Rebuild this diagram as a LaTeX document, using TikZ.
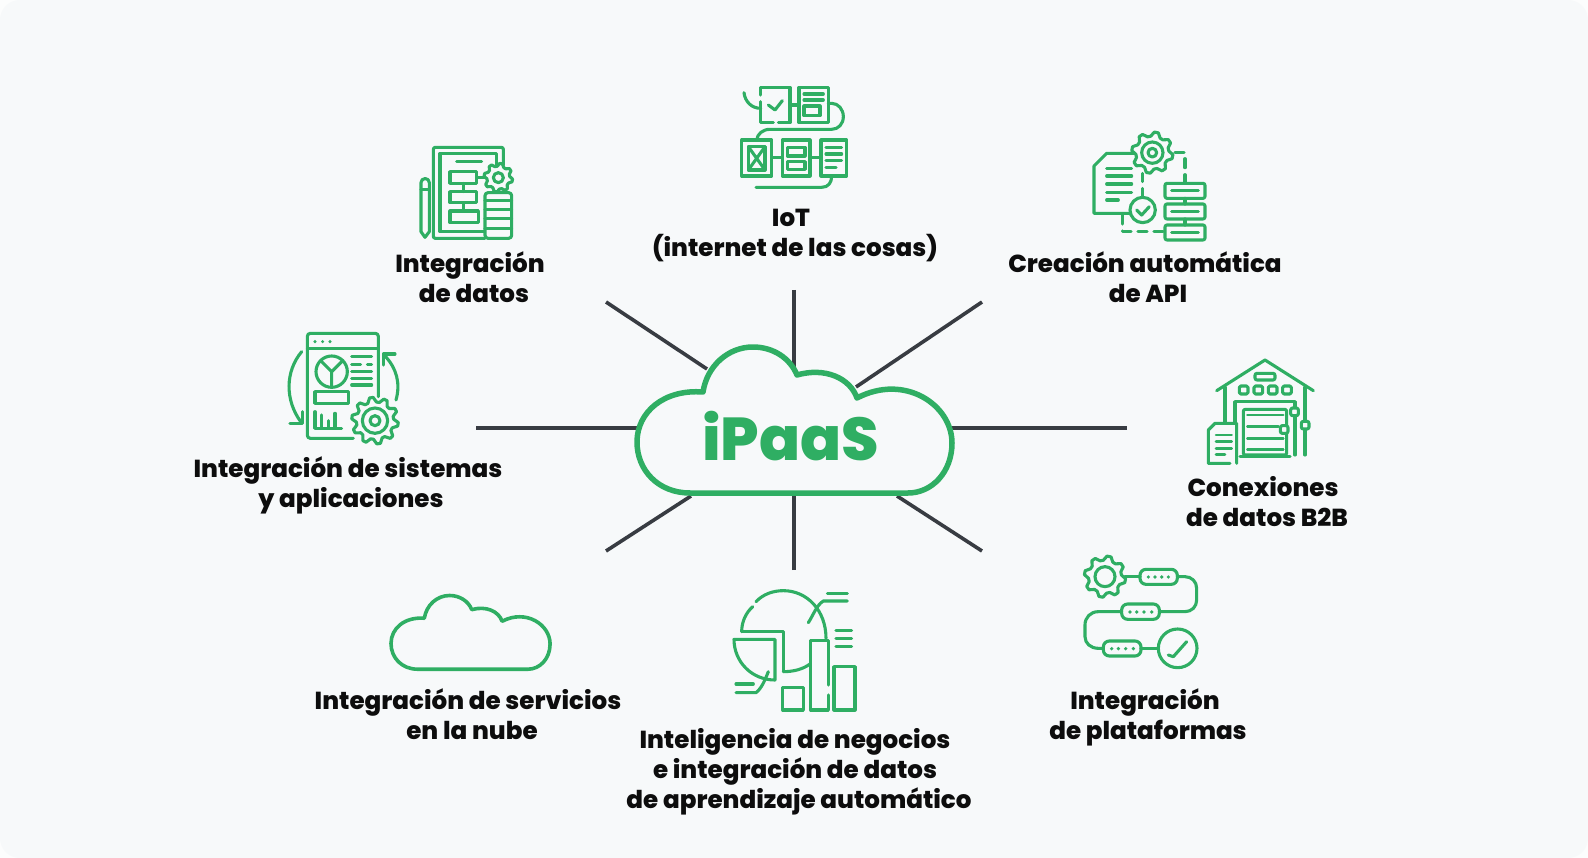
\documentclass[tikz,border=0pt]{standalone}
\usepackage{fontspec}
\setmainfont{Poppins}
\newfontfamily\heavyfont{Poppins ExtraBold}
\newcommand{\lblsize}{\heavyfont\fontsize{24.6}{30}\selectfont}
\definecolor{grn}{HTML}{2FAE63}
\definecolor{bgc}{HTML}{F7F9FA}
\definecolor{crn}{HTML}{FCFDFD}
\definecolor{lnk}{HTML}{383C42}
\tikzset{
  ic/.style={draw=grn,line width=3.1pt,line cap=round,line join=round},
  thin ic/.style={ic,line width=2.6pt},
  spoke/.style={draw=lnk,line width=3.6pt},
  lbl/.style={align=center,font=\lblsize,text=black!95,inner sep=0pt},
  zoomA/.style={shift={(720,70)},x=0.33333pt,y=-0.33333pt},
  zoomB/.style={shift={(270,130)},x=0.33333pt,y=-0.33333pt},
  zoomC/.style={shift={(720,540)},x=0.33333pt,y=-0.33333pt},
  zoomD/.style={shift={(1190,350)},x=0.33333pt,y=-0.33333pt},
}
% gear: centre x, centre y, outer radius, teeth
\newcommand{\geardraw}[4]{%
  \draw[ic,fill=bgc] plot[samples=#4*4,domain=0:(#4*4-1),variable=\t]
    ({#1+(#3*(mod(round(\t),4)<2?1:0.8))*cos((\t+0.5)*90/#4)},
     {#2+(#3*(mod(round(\t),4)<2?1:0.8))*sin((\t+0.5)*90/#4)}) -- cycle;}
% cloud outline in coordinates of the large cloud
\newcommand{\cloudpath}{
  (690,493) .. controls (658,493) and (637,470) .. (637,442)
  .. controls (637,412) and (664,389) .. (703,392)
  .. controls (707,366) and (728,347) .. (753,347)
  .. controls (773,347) and (790,358) .. (797,375)
  .. controls (825,367) and (850,378) .. (857,398)
  .. controls (905,373) and (952,405) .. (952,443)
  .. controls (952,472) and (932,493) .. (908,493) -- cycle}
\begin{document}
\begin{tikzpicture}[x=1pt,y=-1pt]
\useasboundingbox (0,0) rectangle (1588,858);
\fill[crn] (0,0) rectangle (1588,858);
\fill[bgc,rounded corners=20pt] (0,0) rectangle (1588,858);

% hub ends
\coordinate (hubUL) at (707,369);
\coordinate (hubT) at (794,367);
\coordinate (hubUR) at (856,387);
\coordinate (hubL) at (640,428);
\coordinate (hubR) at (950,428);
\coordinate (hubLL) at (691,496);
\coordinate (hubB) at (794,493);
\coordinate (hubLR) at (897,496);
\coordinate (endUL) at (606,302);
\coordinate (endT) at (794,290);
\coordinate (endUR) at (982,302);
\coordinate (endL) at (476,428);
\coordinate (endR) at (1127,428);
\coordinate (endLL) at (606,551);
\coordinate (endB) at (794,570);
\coordinate (endLR) at (982,551);
\draw[spoke] (endUL) -- (hubUL);
\draw[spoke] (endT) -- (hubT);
\draw[spoke] (endUR) -- (hubUR);
\draw[spoke] (endL) -- (hubL);
\draw[spoke] (endR) -- (hubR);
\draw[spoke] (endLL) -- (hubLL);
\draw[spoke] (endB) -- (hubB);
\draw[spoke] (endLR) -- (hubLR);

% central cloud
\draw[draw=grn,line width=5.5pt,line join=round,fill=bgc] \cloudpath;
\node[text=grn,inner sep=0pt,font=\heavyfont\fontsize{60.5}{60}\selectfont] (hub) at (790.5,436) {iPaaS};

% small cloud
\begin{scope}[shift={(391,595.5)},x=0.505pt,y=-0.505pt,shift={(-637,-347)}]
\draw[draw=grn,line width=3.6pt,line join=round] \cloudpath;
\end{scope}

% labels
\node[lbl] (l1) at (795,235.5) {\hspace*{-8pt}IoT\\(internet de las cosas)};
\node[lbl] (l2) at (470,277.5) {Integración\\\hspace*{8pt}de datos};
\node[lbl] (l3) at (1145,277.5) {Creación automática\\\hspace*{6pt}de API};
\node[lbl] (l4) at (348,485) {Integración de sistemas\\\hspace*{6pt}y aplicaciones};
\node[lbl] (l5) at (1263,502) {Conexiones\\\hspace*{8pt}de datos B2B};
\node[lbl] (l6) at (468,714) {Integración de servicios\\\hspace*{8pt}en la nube};
\node[lbl] (l7) at (1145,717) {Integración\\\hspace*{6pt}de plataformas};
\node[lbl] (l8) at (799,772) {\hspace*{-8pt}Inteligencia de negocios\\\hspace*{-8pt}e integración de datos\\de aprendizaje automático};

% IoT icon
\begin{scope}[zoomA]
\draw[ic] (72,68) .. controls (75,95) and (95,115) .. (122,115);
\draw[ic] (122,95) -- (122,158) -- (160,158) (175,158) -- (210,158) -- (210,52) -- (122,52) -- (122,75);
\draw[ic] (145,105) -- (165,120) -- (187,92);
\draw[ic] (210,105) -- (237,105);
\draw[ic] (237,52) rectangle (325,158);
\draw[ic] (252,72) -- (310,72) (252,90) -- (310,90);
\draw[ic] (252,108) rectangle (300,137);
\draw[ic] (325,100) -- (335,100) .. controls (355,100) and (370,118) .. (370,140) .. controls (370,162) and (355,178) .. (335,178) -- (150,178) .. controls (128,178) and (112,192) .. (110,210);
\draw[ic] (65,210) rectangle (155,318);
\draw[ic] (85,230) rectangle (135,300);
\draw[ic] (85,230) -- (135,300) (135,230) -- (85,300);
\draw[ic] (155,262) -- (187,262);
\draw[ic] (187,210) rectangle (270,318);
\draw[ic] (202,232) rectangle (255,258);
\draw[ic] (202,275) rectangle (255,298);
\draw[ic] (270,262) -- (303,262);
\draw[ic] (303,210) rectangle (380,318);
\draw[ic] (318,232) -- (365,232) (318,252) -- (365,252) (318,272) -- (365,272) (318,292) -- (348,292);
\draw[ic] (335,318) .. controls (335,338) and (325,352) .. (305,352) -- (108,352);

% API icon
\draw[ic] (1250,250) -- (1160,250) -- (1122,288) -- (1122,430) -- (1232,430);
\draw[ic] (1160,295) -- (1235,295) (1160,318) -- (1235,318) (1160,342) -- (1235,342) (1160,367) -- (1235,367) (1160,390) -- (1195,390);
\geardraw{1297}{248}{62}{8}
\draw[ic] (1297,248) circle[radius=32] (1297,248) circle[radius=13];
\draw[ic,dash pattern=on 9pt off 7pt] (1365,248) -- (1395,248) -- (1395,340);
\draw[ic] (1268,310) -- (1268,335) (1268,355) -- (1268,382);
\draw[ic] (1268,420) circle[radius=38];
\draw[ic] (1250,420) -- (1265,435) -- (1288,410);
\draw[ic,dash pattern=on 9pt off 7pt] (1208,435) -- (1208,485) -- (1335,485);
\draw[ic,rounded corners=2pt] (1335,340) rectangle (1455,385);
\draw[ic,rounded corners=2pt] (1335,402) rectangle (1455,447);
\draw[ic,rounded corners=2pt] (1335,465) rectangle (1455,510);
\draw[ic] (1355,362) -- (1435,362) (1355,424) -- (1435,424) (1355,487) -- (1435,487);
\draw[ic] (1395,385) -- (1395,402) (1395,447) -- (1395,465);
\end{scope}

% data integration + systems icons
\begin{scope}[zoomB]
\draw[ic,rounded corners=2pt] (645,325) -- (490,325) -- (490,52) -- (700,52) -- (700,105);
\draw[ic] (645,305) -- (510,305) -- (510,70) -- (680,70) -- (680,105);
\draw[ic] (560,95) -- (635,95);
\draw[ic] (540,125) rectangle (620,160);
\draw[ic] (540,185) rectangle (620,218);
\draw[ic] (540,243) rectangle (625,278);
\draw[ic] (580,160) -- (580,185) (580,218) -- (580,243) (620,142) -- (645,142);
\geardraw{685}{143}{43}{8}
\draw[ic] (685,143) circle[radius=15];
\draw[ic,rounded corners=3pt,fill=bgc] (645,188) rectangle (725,325);
\draw[ic] (645,212) -- (725,212) (645,238) -- (725,238) (645,266) -- (725,266) (645,296) -- (725,296);
\draw[ic] (453,305) -- (453,158) arc[start angle=180,end angle=360,radius=12.5] -- (478,305) -- (465,322) -- cycle;
\draw[ic] (453,178) -- (478,178);

\draw[ic,rounded corners=3pt] (325,800) -- (325,610) -- (112,610) -- (112,925) -- (250,925);
\draw[ic] (112,655) -- (325,655);
\foreach \dx in {135,158,180} \fill[grn] (\dx,635) circle[radius=5];
\draw[ic] (185,725) circle[radius=47];
\draw[ic] (152,692) -- (185,725) -- (218,692) (185,725) -- (185,772);
\draw[ic] (245,680) -- (305,680) (245,703) -- (272,703) (292,703) -- (305,703) (245,725) -- (305,725) (245,745) -- (305,745) (245,765) -- (305,765);
\draw[ic] (135,785) rectangle (235,820);
\draw[ic] (135,845) -- (135,895) -- (215,895);
\draw[ic] (155,855) -- (155,895) (175,872) -- (175,895) (195,850) -- (195,895);
\geardraw{315}{872}{70}{10}
\draw[ic] (315,872) circle[radius=38] (315,872) circle[radius=15];
\draw[ic] (95,665) .. controls (45,725) and (45,810) .. (92,875);
\draw[ic] (60,880) -- (97,880) -- (97,845);
\draw[ic] (378,810) .. controls (392,760) and (380,715) .. (345,678);
\draw[ic] (340,705) -- (340,672) -- (375,672);
\end{scope}

% BI + platform icons
\begin{scope}[zoomC]
\draw[ic] (65,275) -- (190,275) -- (190,395);
\draw[ic] (65,275) .. controls (65,245) and (78,218) .. (98,200);
\draw[ic] (108,185) .. controls (130,162) and (160,152) .. (190,152) .. controls (260,152) and (318,210) .. (318,295);
\draw[ic] (190,395) .. controls (220,395) and (248,388) .. (270,372);
\draw[ic] (42,298) -- (165,298) -- (165,420) .. controls (95,420) and (42,365) .. (42,298) -- cycle;
\draw[ic] (382,160) -- (322,160);
\draw[ic] (382,183) -- (310,183) .. controls (290,195) and (280,225) .. (265,248);
\draw[ic] (325,435) -- (325,302) -- (272,302) -- (272,510) -- (325,510) -- (325,465);
\draw[ic] (342,380) rectangle (405,510);
\draw[ic] (188,442) rectangle (250,510);
\draw[ic] (348,272) -- (395,272) (348,295) -- (395,295) (348,320) -- (395,320);
\draw[ic] (48,432) -- (100,432);
\draw[ic] (48,458) -- (108,458) .. controls (125,445) and (135,420) .. (145,395);

\geardraw{1155}{110}{62}{8}
\draw[ic] (1155,110) circle[radius=30];
\draw[ic] (1215,110) -- (1260,110);
\draw[ic,rounded corners=6pt] (1260,88) rectangle (1372,133);
\draw[ic] (1372,110) -- (1395,110) .. controls (1415,110) and (1430,125) .. (1430,145) -- (1430,180) .. controls (1430,200) and (1415,215) .. (1395,215) -- (1318,215);
\draw[ic,rounded corners=6pt] (1205,192) rectangle (1318,238);
\draw[ic] (1205,215) -- (1135,215) .. controls (1112,215) and (1095,232) .. (1095,255) -- (1095,290) .. controls (1095,310) and (1112,325) .. (1135,325) -- (1150,325);
\draw[ic,rounded corners=6pt] (1150,303) rectangle (1263,348);
\draw[ic] (1263,325) -- (1315,325);
\draw[ic] (1373,325) circle[radius=58];
\draw[ic] (1345,345) -- (1360,350) -- (1400,305);
\foreach \px in {1285,1305,1325,1345} \fill[grn] (\px,111) circle[radius=5.5];
\foreach \px in {1230,1250,1272,1295} \fill[grn] (\px,216) circle[radius=5.5];
\foreach \px in {1175,1195,1217,1240} \fill[grn] (\px,326) circle[radius=5.5];
\end{scope}

% warehouse
\begin{scope}[zoomD]
\draw[ic] (80,122) -- (225,30) -- (370,122);
\draw[ic] (105,112) -- (105,215);
\draw[ic] (345,112) -- (345,212) (345,240) -- (345,315);
\draw[ic,rounded corners=2pt] (195,70) rectangle (255,90);
\foreach \wx in {148,192,235,278} \draw[ic,rounded corners=1.5pt] (\wx,108) rectangle (\wx+26,132);
\draw[ic] (135,215) -- (135,155) -- (315,155) -- (315,172) (315,198) -- (315,315);
\draw[ic,rounded corners=2pt] (160,178) rectangle (290,315);
\draw[thin ic] (172,195) -- (280,195) (172,230) -- (265,230) (172,265) -- (280,265) (172,298) -- (280,298);
\draw[ic,rounded corners=2pt,fill=bgc] (302,174) rectangle (325,197);
\draw[ic,rounded corners=2pt,fill=bgc] (334,214) rectangle (357,237);
\draw[ic,rounded corners=2pt,fill=bgc] (271,227) rectangle (294,250);
\draw[ic] (150,320) -- (300,320);
\draw[ic,fill=bgc] (120,340) -- (55,340) -- (55,240) -- (75,220) -- (140,220) -- (140,340);
\draw[thin ic] (78,255) -- (125,255) (78,275) -- (125,275) (78,295) -- (125,295) (78,313) -- (105,313);
\end{scope}
\end{tikzpicture}
\end{document}
